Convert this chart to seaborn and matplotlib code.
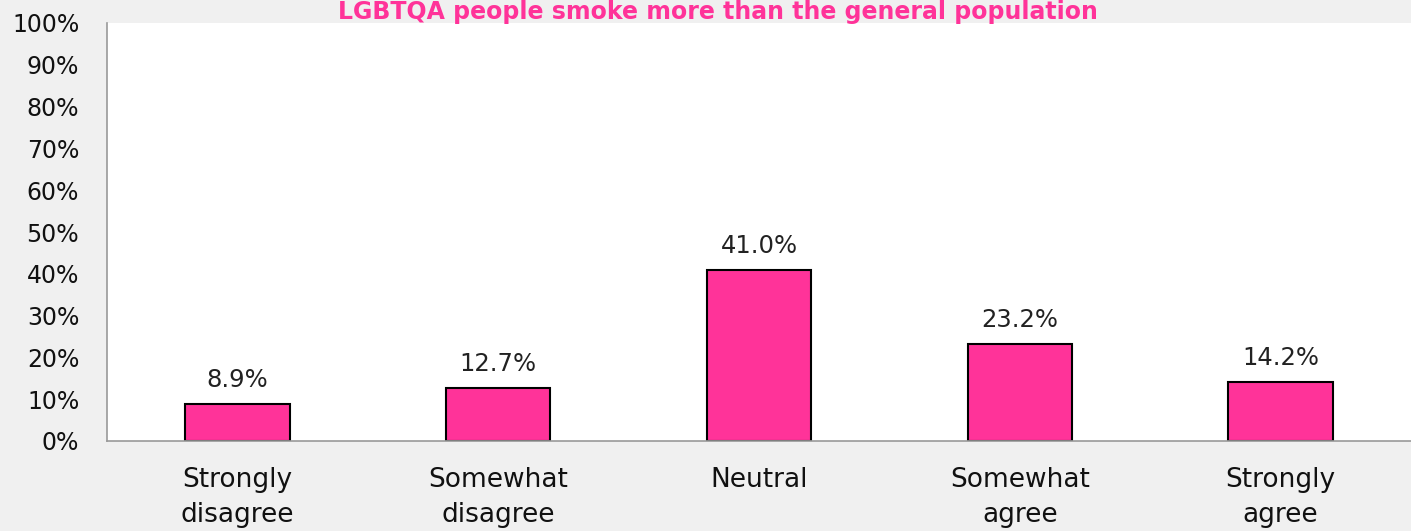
import numpy as np
import pandas as pd
import matplotlib
matplotlib.use("Agg")
import matplotlib.pyplot as plt
import seaborn as sns

# values
categories = ['Strongly\ndisagree', 'Somewhat\ndisagree', 'Neutral', 'Somewhat\nagree', 'Strongly\nagree']
shares = [8.9, 12.7, 41.0, 23.2, 14.2]
title = 'LGBTQA people smoke more than the general population'

pink = '#FF3399'
bg = '#F0F0F0'
grey = '#999999'

sns.set_style('white')
plt.rcParams['font.family'] = ['DejaVu Sans']

df = pd.DataFrame({'answer': categories, 'share': shares})

fig = plt.figure(figsize=(14.11, 5.31), dpi=100, facecolor=bg)
ax = fig.add_axes([107 / 1411, 90 / 531, 1 - 107 / 1411, 418 / 531])
ax.set_facecolor('white')

sns.barplot(data=df, x='answer', y='share', color=pink, width=0.4,
            edgecolor='black', linewidth=1.5, saturation=1, ax=ax)

# data labels above the bars
for i, v in enumerate(shares):
    ax.annotate(f'{v:.1f}%', (i, v), xytext=(0, 12), textcoords='offset points',
                ha='center', va='baseline', fontsize=17.5, color='#222222')

ax.set_xlim(-0.5, 4.5)
ax.set_ylim(0, 100)
ax.set_yticks(np.arange(0, 101, 10))
ax.set_yticklabels([f'{t}%' for t in range(0, 101, 10)], fontsize=17, color='#111111')
ax.set_xticks(range(len(categories)))
ax.set_xticklabels(categories, fontsize=19, color='#111111', linespacing=1.45)
ax.tick_params(axis='x', which='major', length=0, pad=19)
# separator ticks between categories
ax.set_xticks(np.arange(-0.5, 5, 1), minor=True)
ax.tick_params(axis='x', which='minor', length=7, color=grey, width=1.2, direction='out')
ax.tick_params(axis='y', length=7, color=grey, width=1.2, direction='out', pad=13)
ax.set_xlabel('')
ax.set_ylabel('')

for side in ['top', 'right']:
    ax.spines[side].set_visible(False)
for side in ['left', 'bottom']:
    ax.spines[side].set_color(grey)
    ax.spines[side].set_linewidth(1.2)

fig.text(0.509, 1 - 19 / 531, title, ha='center', va='baseline', fontsize=17,
         fontweight='bold', color=pink, zorder=5)

fig.savefig('out.png', dpi=100, facecolor=bg)
